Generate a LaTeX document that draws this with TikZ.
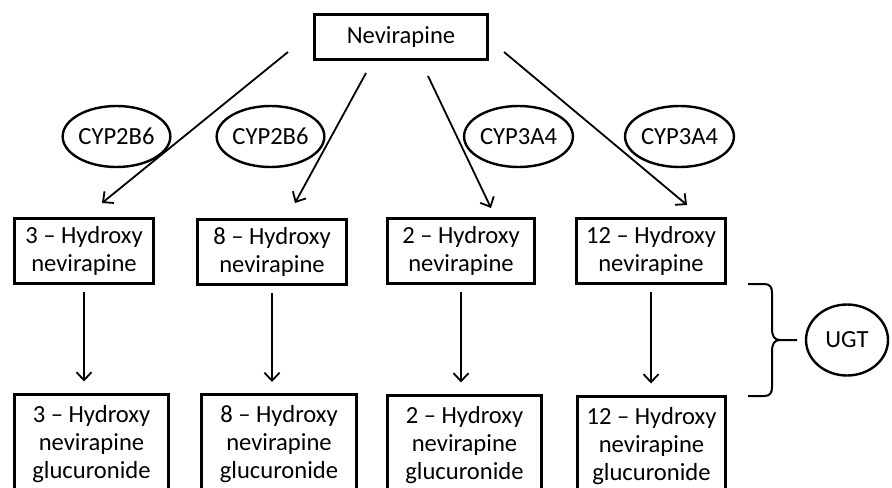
\documentclass[tikz,border=0pt]{standalone}
\usepackage{fontspec}
\setmainfont{Carlito}
\usetikzlibrary{arrows.meta,shapes.geometric}

\begin{document}
\begin{tikzpicture}[x=0.5pt,y=-0.5pt,
  every node/.style={font=\fontsize{12.3}{14}\selectfont,align=center,inner sep=0pt},
  drug/.style={draw,line width=1.5pt,minimum height=32.5pt},
  gluc/.style={draw,line width=1.5pt,minimum height=50pt},
  enzyme/.style={draw,ellipse,line width=1.2pt,minimum width=47pt,minimum height=30.5pt},
  arr/.style={line width=0.9pt,-{Straight Barb[length=4pt,width=7.5pt]}}]
\useasboundingbox (0,0) rectangle (892,487);
\clip (0,0) rectangle (892,487);
% parent drug
\node[draw,line width=1.5pt,minimum width=86.5pt,minimum height=22.5pt] (nev) at (401,37) {Nevirapine};
% enzymes
\node[enzyme] (cyp1) at (116.5,136.5) {CYP2B6};
\node[enzyme] (cyp2) at (270.5,136.5) {CYP2B6};
\node[enzyme] (cyp3) at (518.5,136.5) {CYP3A4};
\node[enzyme] (cyp4) at (679.5,136.5) {CYP3A4};
\node[enzyme,minimum width=41pt,minimum height=35.5pt] (ugt) at (847,340) {UGT};
% hydroxy metabolites
\node[drug,minimum width=69.5pt] (hyd3) at (84,250.5) {3 -- Hydroxy\\nevirapine};
\node[drug,minimum width=74.5pt] (hyd8) at (272,251.5) {8 -- Hydroxy\\nevirapine};
\node[drug,minimum width=73.5pt] (hyd2) at (461,250.5) {2 -- Hydroxy\\nevirapine};
\node[drug,minimum width=74.5pt] (hyd12) at (651,250.5) {12 -- Hydroxy\\nevirapine};
% glucuronides
\node[gluc,minimum width=77pt] (glu3) at (91.5,444) {3 -- Hydroxy\\nevirapine\\glucuronide};
\node[gluc,minimum width=77.5pt] (glu8) at (279,444.5) {8 -- Hydroxy\\nevirapine\\glucuronide};
\node[gluc,minimum width=77pt] (glu2) at (464.5,445) {2 -- Hydroxy\\nevirapine\\glucuronide};
\node[gluc,minimum width=74pt] (glu12) at (651.5,446) {12 -- Hydroxy\\nevirapine\\glucuronide};
% oxidation arrows
\coordinate (s1) at (288,52);  \coordinate (t1) at (102,203);
\coordinate (s2) at (366,73);  \coordinate (t2) at (295,203);
\coordinate (s3) at (428,76);  \coordinate (t3) at (491,208);
\coordinate (s4) at (504,52);  \coordinate (t4) at (687,205);
\draw[arr] (s1) -- (t1);
\draw[arr] (s2) -- (t2);
\draw[arr] (s3) -- (t3);
\draw[arr] (s4) -- (t4);
% glucuronidation arrows
\draw[arr,shorten <=3.75pt,shorten >=5.5pt] (hyd3.south) -- (hyd3.south |- glu3.north);
\draw[arr,shorten <=3.75pt,shorten >=5.5pt] (hyd8.south) -- (hyd8.south |- glu8.north);
\draw[arr,shorten <=3.75pt,shorten >=5.5pt] (hyd2.south) -- (hyd2.south |- glu2.north);
\draw[arr,shorten <=3.75pt,shorten >=5.5pt] (hyd12.south) -- (hyd12.south |- glu12.north);
% brace to UGT
\coordinate (tip) at (797,340);
\draw[line width=1pt] (748,284) -- (764,284) .. controls (770,284) and (772,287) .. (772,293)
  -- (772,328) .. controls (772,336) and (774,340) .. (780,340) -- (tip);
\draw[line width=1pt] (780,340) .. controls (774,340) and (772,344) .. (772,352)
  -- (772,387) .. controls (772,393) and (770,396) .. (764,396) -- (748,396);
\end{tikzpicture}
\end{document}
